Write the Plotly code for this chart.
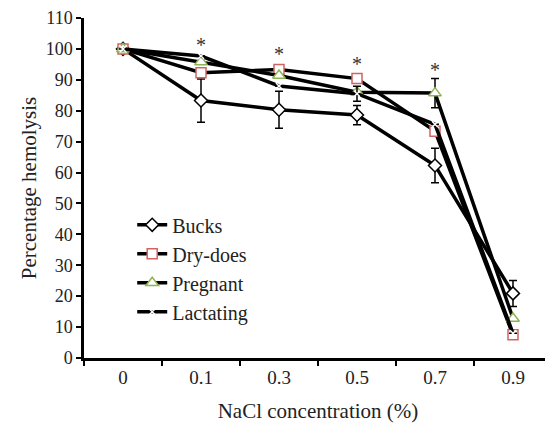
import plotly.graph_objects as go

categories = ["0", "0.1", "0.3", "0.5", "0.7", "0.9"]
bucks = [100, 83.3, 80.3, 78.6, 62.3, 20.9]
bucks_err = [0, 7.0, 6.0, 3.1, 5.6, 4.2]
dry_does = [100, 92.3, 93.3, 90.4, 73.4, 7.5]
pregnant = [100, 95.8, 91.4, 86.0, 85.7, 12.8]
pregnant_err = [0, 0, 0, 0, 4.7, 0]
lactating = [100, 97.7, 88.0, 85.5, 75.6, 8.0]
lactating_err = [0, 0, 0, 2.4, 0, 0]
star_cats = ["0.1", "0.3", "0.5", "0.7"]
star_y = [100.6, 97.7, 94.5, 92.6]

FONT = "Liberation Serif, DejaVu Serif, serif"
LW = 3.5

fig = go.Figure()

def add(name, y, marker, err=None):
    kw = {}
    if err is not None:
        kw["error_y"] = dict(type="data", array=err, visible=True, color="black",
                             thickness=1.5, width=4)
    fig.add_trace(go.Scatter(x=categories, y=y, name=name, mode="lines+markers",
                             line=dict(color="black", width=LW),
                             marker=marker, **kw))

add("Bucks", bucks, dict(symbol="diamond", size=10, color="white",
                         line=dict(color="black", width=1.5)), bucks_err)
add("Dry-does", dry_does, dict(symbol="square", size=10, color="white",
                               line=dict(color="#d06460", width=1.5)))
add("Pregnant", pregnant, dict(symbol="triangle-up", size=11, color="white",
                               line=dict(color="#8db352", width=1.5)), pregnant_err)
add("Lactating", lactating, dict(symbol="x-thin", size=6, color="white",
                                 line=dict(color="white", width=1.5)), lactating_err)

fig.add_trace(go.Scatter(x=star_cats, y=star_y, mode="text", text=["*"] * len(star_cats),
                         textfont=dict(family=FONT, size=20, color="#333333"),
                         showlegend=False, hoverinfo="skip"))

# page body has an 8px default margin, so the figure is offset by 8px
fig.update_layout(
    width=545, height=415,
    margin=dict(l=76, r=1, t=10, b=65),
    plot_bgcolor="white", paper_bgcolor="white",
    font=dict(family=FONT, size=18, color="#222222"),
    showlegend=True,
    legend=dict(x=0.103, y=0.449, xanchor="left", yanchor="top",
                bgcolor="rgba(0,0,0,0)", font=dict(family=FONT, size=20),
                tracegroupgap=0, itemwidth=30),
)
fig.update_xaxes(
    type="category", categoryorder="array", categoryarray=categories,
    range=[-0.5, 5.5], showline=True, linecolor="black", linewidth=2.5,
    ticks="outside", tickson="boundaries", ticklen=5, tickwidth=1.5, tickcolor="black",
    showgrid=False, zeroline=False, automargin=False,
    tickfont=dict(size=19),
    title=dict(text="NaCl concentration (%)", standoff=20, font=dict(size=21)),
)
fig.update_yaxes(
    range=[0, 110], dtick=10, showline=True, linecolor="black", linewidth=2.5,
    ticks="outside", ticklen=5, tickwidth=1.5, tickcolor="black",
    showgrid=False, zeroline=False, automargin=False, ticklabeloverflow="allow",
    title=dict(text="Percentage hemolysis", standoff=4, font=dict(size=21)),
)

fig.write_html("out.html")
